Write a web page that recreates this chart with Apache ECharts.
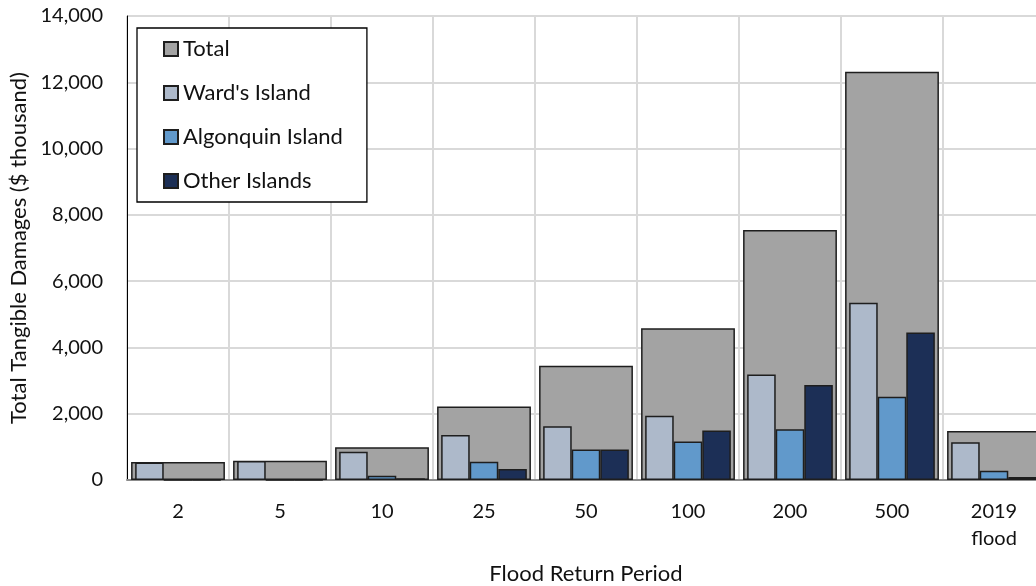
<!DOCTYPE html>
<html>
<head>
<meta charset="utf-8">
<script src="https://cdn.jsdelivr.net/npm/echarts@6/dist/echarts.min.js"></script>
<style>
  html, body { margin: 0; padding: 0; background: #fff; }
  #chart { width: 1036px; height: 586px; }
</style>
</head>
<body>
<div id="chart"></div>
<script>
// flood return periods
const periods = ['2', '5', '10', '25', '50', '100', '200', '500', '2019\nflood'];

// damages, $ thousand
const totalDamages = [540, 580, 990, 2220, 3450, 4580, 7540, 12320, 1480];
const wardsIsland = [530, 575, 850, 1360, 1620, 1940, 3180, 5350, 1140];
const algonquinIsland = [0, 0, 130, 550, 920, 1160, 1530, 2510, 280];
const otherIslands = [0, 0, 50, 330, 920, 1490, 2870, 4450, 90];

const font = 'Lato, "Open Sans", sans-serif';
const edge = '#1e1e1e';

const chart = echarts.init(document.getElementById('chart'));

const option = {
  animation: false,
  textStyle: { fontFamily: font },
  grid: {
    left: 127,
    top: 16,
    width: 918,
    height: 464,
    outerBoundsMode: 'none',
    show: true,
    borderColor: '#000',
    borderWidth: 1,
    backgroundColor: 'transparent',
  },
  legend: {
    orient: 'vertical',
    left: 137,
    top: 28,
    padding: [10, 24, 10, 26],
    itemGap: 22,
    itemWidth: 14,
    itemHeight: 14,
    itemGap: 22,
    backgroundColor: '#fff',
    borderColor: '#000',
    borderWidth: 1.3,
    icon: 'rect',
    textStyle: { fontSize: 22, color: '#111', fontFamily: font },
    data: ['Total', "Ward's Island", 'Algonquin Island', 'Other Islands'],
  },
  xAxis: [
    {
      type: 'category',
      data: periods,
      name: 'Flood Return Period',
      nameLocation: 'middle',
      nameGap: 83,
      nameTextStyle: { fontSize: 22, color: '#111' },
      axisLine: { lineStyle: { color: '#8c8c8c', width: 2 } },
      axisTick: { show: false },
      axisLabel: { fontSize: 20, color: '#111', margin: 18, lineHeight: 27 },
      splitLine: { show: true, lineStyle: { color: '#d9d9d9', width: 2 } },
    },
    {
      type: 'category',
      data: periods,
      show: false,
    },
  ],
  yAxis: {
    type: 'value',
    min: 0,
    max: 14000,
    interval: 2000,
    name: 'Total Tangible Damages ($ thousand)',
    nameLocation: 'middle',
    nameGap: 94,
    nameTextStyle: { fontSize: 22, color: '#111' },
    axisLine: { show: true, lineStyle: { color: '#000', width: 1 } },
    axisTick: { show: false },
    axisLabel: {
      fontSize: 20,
      color: '#111',
      margin: 24,
      formatter: (v) => v.toLocaleString('en-US'),
    },
    splitLine: { lineStyle: { color: '#d9d9d9', width: 2 } },
  },
  series: [
    {
      name: 'Total',
      type: 'bar',
      xAxisIndex: 0,
      barCategoryGap: '8%',
      itemStyle: { color: '#a3a3a3', borderColor: edge, borderWidth: 1.5 },
      data: totalDamages,
    },
    {
      name: "Ward's Island",
      type: 'bar',
      xAxisIndex: 1,
      barGap: '0%',
      barCategoryGap: '16%',
      itemStyle: { color: '#adb9ca', borderColor: edge, borderWidth: 1.5 },
      data: wardsIsland,
    },
    {
      name: 'Algonquin Island',
      type: 'bar',
      xAxisIndex: 1,
      barGap: '0%',
      barCategoryGap: '16%',
      itemStyle: { color: '#6199cb', borderColor: edge, borderWidth: 1.5 },
      data: algonquinIsland,
    },
    {
      name: 'Other Islands',
      type: 'bar',
      xAxisIndex: 1,
      barGap: '0%',
      barCategoryGap: '16%',
      itemStyle: { color: '#1c2f56', borderColor: edge, borderWidth: 1.5 },
      data: otherIslands,
    },
  ],
};

chart.setOption(option);
</script>
</body>
</html>
